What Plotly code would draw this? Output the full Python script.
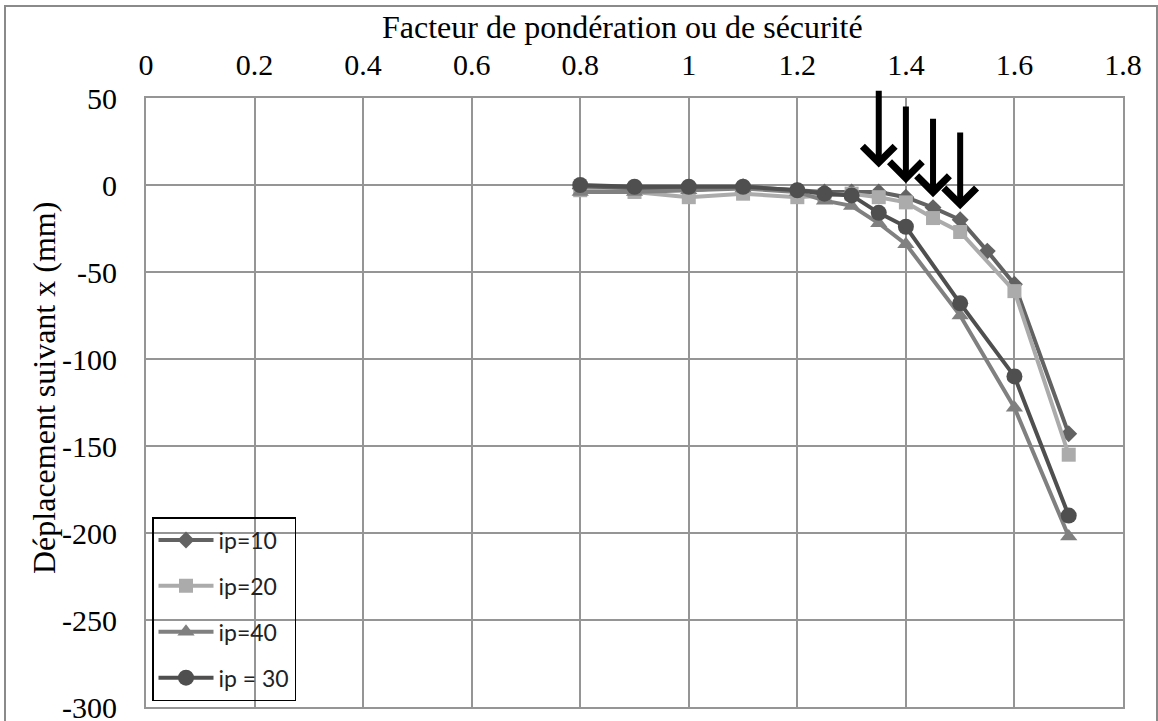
import plotly.graph_objects as go

# ---- data ----
x_ip10 = [0.8, 0.9, 1.0, 1.1, 1.2, 1.25, 1.3, 1.35, 1.4, 1.45, 1.5, 1.55, 1.6, 1.7]
y_ip10 = [-2, -2, -3, -1, -3, -4, -4, -4, -7, -13, -20, -38, -57, -143]

x_ip20 = [0.8, 0.9, 1.0, 1.1, 1.2, 1.25, 1.3, 1.35, 1.4, 1.45, 1.5, 1.6, 1.7]
y_ip20 = [-3, -4, -7, -5, -7, -6, -5, -7, -10, -19, -27, -61, -155]

x_ip40 = [0.8, 0.9, 1.0, 1.1, 1.2, 1.25, 1.3, 1.35, 1.4, 1.5, 1.6, 1.7]
y_ip40 = [-4, -4, -3, -2, -4, -9, -12, -22, -34, -75, -128, -202]

x_ip30 = [0.8, 0.9, 1.0, 1.1, 1.2, 1.25, 1.3, 1.35, 1.4, 1.5, 1.6, 1.7]
y_ip30 = [0, -1, -1, -1, -3, -5, -6, -16, -24, -68, -110, -190]

series_names = ["ip=10", "ip=20", "ip=40", "ip = 30"]

x_tickvals = [0, 0.2, 0.4, 0.6, 0.8, 1.0, 1.2, 1.4, 1.6, 1.8]
x_ticktext = ["0", "0.2", "0.4", "0.6", "0.8", "1", "1.2", "1.4", "1.6", "1.8"]
y_tickvals = [50, 0, -50, -100, -150, -200, -250, -300]
y_ticktext = ["50", "0", "-50", "-100", "-150", "-200", "-250", "-300"]

# arrows: (x, tail value, tip value)
arrow_x = [1.35, 1.40, 1.45, 1.50]
arrow_tail = [55, 46, 39, 31]
arrow_tip = [10, 1, -7, -14]

x_title = "Facteur de pondération ou de sécurité"
y_title = "Déplacement suivant x (mm)"

# ---- figure ----
W, H = 1158, 721
L, R, T, B = 146, 1158 - 1123, 98, 721 - 707
pw, ph = W - L - R, H - T - B

styles = [
    dict(color="#626262", symbol="diamond", size=13),
    dict(color="#ababab", symbol="square", size=14),
    dict(color="#808080", symbol="triangle-up", size=15),
    dict(color="#4f4f4f", symbol="circle", size=16),
]
xs = [x_ip10, x_ip20, x_ip40, x_ip30]
ys = [y_ip10, y_ip20, y_ip40, y_ip30]

fig = go.Figure()
for i, (xx, yy, nm, st) in enumerate(zip(xs, ys, series_names, styles)):
    fig.add_trace(go.Scatter(
        x=xx, y=yy, name=nm, mode="lines+markers",
        line=dict(color=st["color"], width=4),
        marker=dict(color=st["color"], symbol=st["symbol"], size=st["size"],
                    line=dict(width=0)),
        legendgroup=f"g{i}",
        cliponaxis=False,
    ))

serif = "Liberation Serif, Times New Roman, serif"
grid = "#959595"

fig.update_layout(
    width=W, height=H,
    margin=dict(l=L, r=R, t=T, b=B, pad=0, autoexpand=False),
    paper_bgcolor="white", plot_bgcolor="white",
    showlegend=True,
    legend=dict(
        x=(152 - L) / pw, y=(707 - 517) / ph, xanchor="left", yanchor="top",
        bgcolor="rgba(0,0,0,0)", bordercolor="black", borderwidth=1.5,
        font=dict(family="Lato, Open Sans, sans-serif", size=23, color="#222"),
        tracegroupgap=13, itemwidth=55,
    ),
    xaxis=dict(
        side="top", range=[0, 1.8], tickvals=x_tickvals, ticktext=x_ticktext,
        showgrid=True, gridcolor=grid, gridwidth=2, zeroline=False,
        showline=True, linecolor=grid, linewidth=2, mirror=True,
        ticks="outside", ticklen=9, tickcolor="rgba(0,0,0,0)",
        tickfont=dict(family=serif, size=30, color="black"),
        ticklabeloverflow="allow", automargin=False,
    ),
    yaxis=dict(
        range=[-300, 50], tickvals=y_tickvals, ticktext=y_ticktext,
        showgrid=True, gridcolor=grid, gridwidth=2, zeroline=False,
        showline=True, linecolor=grid, linewidth=2, mirror=True,
        ticks="outside", ticklen=21, tickcolor="rgba(0,0,0,0)",
        tickfont=dict(family=serif, size=30, color="black"),
        ticklabeloverflow="allow", automargin=False,
    ),
)

# axis titles
fig.add_annotation(text=x_title, xref="paper", yref="paper",
                   x=(622 - L) / pw, y=(707 - 27) / ph, showarrow=False,
                   xanchor="center", yanchor="middle",
                   font=dict(family=serif, size=32, color="black"))
fig.add_annotation(text=y_title, xref="paper", yref="paper",
                   x=(44 - L) / pw, y=(707 - 388) / ph, showarrow=False,
                   textangle=-90, xanchor="center", yanchor="middle",
                   font=dict(family=serif, size=32, color="black"))

# arrows
for ax_, tail, tip in zip(arrow_x, arrow_tail, arrow_tip):
    fig.add_annotation(x=ax_, y=tip, ax=ax_, ay=tail, axref="x", ayref="y",
                       xref="x", yref="y", text="", showarrow=True,
                       arrowhead=4, arrowsize=1.05, arrowwidth=6,
                       arrowcolor="black")

# outer frame
fig.add_shape(type="rect", xref="paper", yref="paper",
              x0=(5 - L) / pw, x1=(1157 - L) / pw,
              y0=(707 - 740) / ph, y1=(707 - 6) / ph,
              line=dict(color="#8a8a8a", width=2), fillcolor="rgba(0,0,0,0)",
              layer="below")

fig.write_html("out.html", config={"displayModeBar": False},
               post_script="document.body.style.margin='0';document.body.style.overflow='hidden';")
